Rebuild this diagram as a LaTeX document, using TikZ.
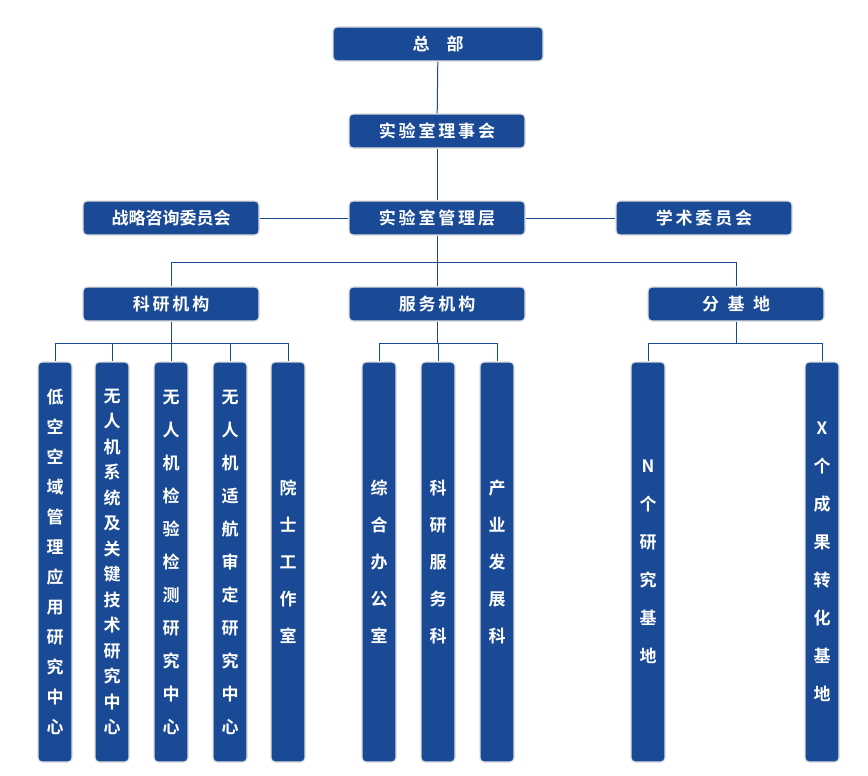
\documentclass[tikz,border=0pt]{standalone}
\usepackage{fontspec}
\setmainfont{Noto Sans CJK SC Bold}
\definecolor{orgblue}{HTML}{1A4A96}
\tikzset{
	box/.style={fill=orgblue,draw=gray!25,line width=1.2pt,rounded corners=4pt,text=white,
		minimum width=176pt,minimum height=34pt,inner sep=0pt,font=\fontsize{17}{20}\selectfont},
	col/.style={fill=orgblue,draw=gray!25,line width=1.2pt,rounded corners=4pt,text=white,
		minimum width=34pt,minimum height=400pt,inner sep=0pt,align=center},
	link/.style={orgblue,line width=1pt}
}
\newcommand{\colfont}[1]{\fontsize{17}{#1}\selectfont}
\begin{document}
\begin{tikzpicture}[x=1pt,y=-1pt]
	\useasboundingbox (0,0) rectangle (868,776);

	\node[box,minimum width=210pt] (hq) at (438,44) {总\hspace{1em}部};
	\node[box] (board) at (437,131) {实\,验\,室\,理\,事\,会};
	\node[box] (mgmt) at (437,218) {实\,验\,室\,管\,理\,层};
	\node[box] (strat) at (171,218) {战略咨询委员会};
	\node[box] (acad) at (704,218) {学\,术\,委\,员\,会};
	\node[box] (sci) at (171,304) {科\,研\,机\,构};
	\node[box] (serv) at (437,304) {服\,务\,机\,构};
	\node[box] (base) at (736,304) {分\hspace{0.5em}基\hspace{0.5em}地};

	% research centres
	\node[col,font=\colfont{30}] (s1) at (55,562) {低\\空\\空\\域\\管\\理\\应\\用\\研\\究\\中\\心};
	\node[col,font=\colfont{25.5}] (s2) at (112,562) {无\\人\\机\\系\\统\\及\\关\\键\\技\\术\\研\\究\\中\\心};
	\node[col,font=\colfont{33}] (s3) at (171,562) {无\\人\\机\\检\\验\\检\\测\\研\\究\\中\\心};
	\node[col,font=\colfont{33}] (s4) at (230,562) {无\\人\\机\\适\\航\\审\\定\\研\\究\\中\\心};
	\node[col,font=\colfont{37}] (s5) at (288,562) {院\\士\\工\\作\\室};
	% service units
	\node[col,font=\colfont{37}] (v1) at (379,562) {综\\合\\办\\公\\室};
	\node[col,font=\colfont{37}] (v2) at (438,562) {科\\研\\服\\务\\科};
	\node[col,font=\colfont{37}] (v3) at (497,562) {产\\业\\发\\展\\科};
	% bases
	\node[col,font=\colfont{38}] (b1) at (648,562) {N\\个\\研\\究\\基\\地};
	\node[col,font=\colfont{38}] (b2) at (822,562) {X\\个\\成\\果\\转\\化\\基\\地};

	\coordinate (midbus) at (437,262);
	\coordinate (scibus) at (171,343);
	\coordinate (servbus) at (437,343);
	\coordinate (basebus) at (736,343);

	\draw[link] (hq) -- (board);
	\draw[link] (board) -- (mgmt);
	\draw[link] (strat) -- (mgmt);
	\draw[link] (mgmt) -- (acad);
	\draw[link] (mgmt) -- (midbus);
	\draw[link] (midbus) -| (sci.north);
	\draw[link] (midbus) -- (serv.north);
	\draw[link] (midbus) -| (base.north);
	\draw[link] (sci) -- (scibus);
	\draw[link] (serv) -- (servbus);
	\draw[link] (base) -- (basebus);
	\foreach \c in {s1,s2,s3,s4,s5}
		\draw[link] (scibus) -| (\c.north);
	\foreach \c in {v1,v2,v3}
		\draw[link] (servbus) -| (\c.north);
	\foreach \c in {b1,b2}
		\draw[link] (basebus) -| (\c.north);
\end{tikzpicture}
\end{document}
